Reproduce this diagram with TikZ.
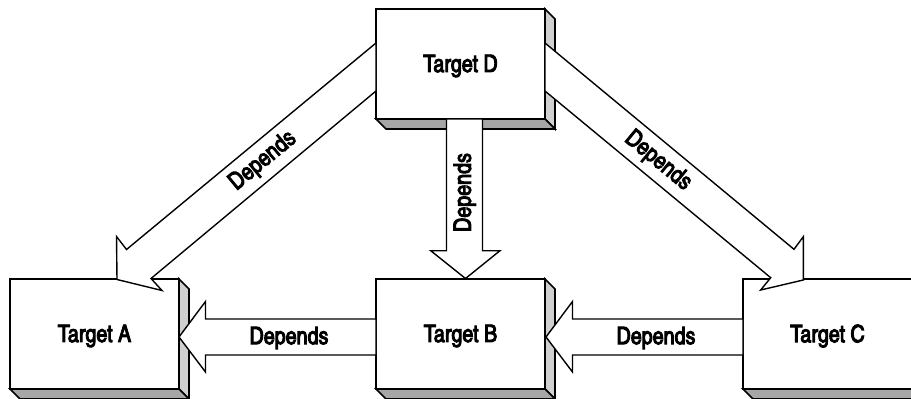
\documentclass[tikz,border=0pt]{standalone}
\usepackage{fontspec}
\setmainfont{TeX Gyre Heros Cn}[FakeBold=4]
\usetikzlibrary{calc}
\definecolor{sidegray}{RGB}{208,208,208}
\definecolor{botgray}{RGB}{166,166,166}
\newcommand\boxfaces[1]{%
  \draw[face,fill=sidegray] (#1.north east) -- ++(10,10) -- ($(#1.south east)+(10,10)$) -- (#1.south east) -- cycle;
  \draw[face,fill=botgray] (#1.south west) -- ++(10,10) -- ($(#1.south east)+(10,10)$) -- (#1.south east) -- cycle;
}
\begin{document}
\begin{tikzpicture}[x=1pt,y=-1pt,
  box/.style={draw,line width=1.6pt,fill=white,minimum width=169pt,minimum height=110pt,
    inner sep=0pt,outer sep=0pt},
  face/.style={draw,line width=1.6pt,line join=miter},
  blockarrow/.style={draw,fill=white,line width=1.4pt,line join=miter},
  txt/.style={font=\fontsize{24}{28}\selectfont,inner sep=0pt}]
\useasboundingbox (0,0) rectangle (911,399);

% boxes
\node[box] (D) at (460.5,64) {};
\node[box] (A) at (94.5,334) {};
\node[box] (B) at (460.5,334) {};
\node[box] (C) at (827.5,334) {};
\boxfaces{D}
\boxfaces{A}
\boxfaces{B}
\boxfaces{C}
\node[txt] (tD) at ($(D.center)+(0,2)$) {Target D};
\node[txt] (tA) at ($(A.center)+(0,2)$) {Target A};
\node[txt] (tB) at ($(B.center)+(0,2)$) {Target B};
\node[txt] (tC) at ($(C.center)+(0,2)$) {Target C};

% block arrows
\draw[blockarrow] ($(D.west)+(0,-21)$) -- (126.5,249.5) -- (116.5,236.5) -- (117,279.5)
  -- (162,290.5) -- (151,278.5) -- ($(D.west)+(0,27)$) -- cycle;
\draw[blockarrow] ($(D.east)+(0,-21)$) -- (794,249.3) -- (803.3,236.7) -- (803.3,280)
  -- (760.7,290) -- (770.7,277.7) -- ($(D.east)+(0,27)$) -- cycle;
\draw[blockarrow] ($(D.south)+(-14,0)$) -- (446.5,250.7) -- (430.7,250.7) -- ($(B.north)+(5,-0.5)$)
  -- (500,250.7) -- (482.5,250.7) -- ($(D.south)+(22,0)$) -- cycle;
\draw[blockarrow] ($(B.west)+(0,-15)$) -- (205.5,319) -- (205.5,301.5) -- ($(A.east)+(0,3)$)
  -- (205.5,372) -- (205.5,355) -- ($(B.west)+(0,21)$) -- cycle;
\draw[blockarrow] ($(C.west)+(0,-15)$) -- (572.5,319) -- (572.5,301.5) -- ($(B.east)+(1,3)$)
  -- (572.5,372) -- (572.5,355) -- ($(C.west)+(0,21)$) -- cycle;

% labels
\node[txt] (lab) at (289,338) {Depends};
\node[txt] (lcb) at (656,338) {Depends};
\node[txt,rotate=90] (ldb) at (464.7,192.5) {Depends};
\node[txt,rotate=39.6] (lda) at (263,161) {Depends};
\node[txt,rotate=-39.6] (ldc) at (658,161) {Depends};
\end{tikzpicture}
\end{document}
